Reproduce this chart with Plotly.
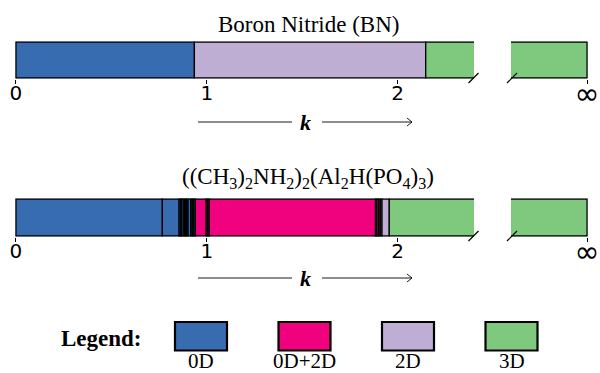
import plotly.graph_objects as go

W, H = 600, 373

# ---------------- data ----------------
PHASES = ["0D", "0D+2D", "2D", "3D"]
PHASE_COLORS = {"0D": "#386cb0", "0D+2D": "#f0027f", "2D": "#beaed4", "3D": "#7fc97f"}

INF_K = 3.0  # value that stands for k = infinity on the right-hand (broken) axis

# Boron Nitride (BN): segment boundaries in k and the phase of each segment
bn_bounds = [0.0, 0.935, 2.147, INF_K]
bn_phases = ["0D", "2D", "3D"]

# ((CH3)2NH2)2(Al2H(PO4)3)
dma_bounds = [0.0, 0.767, 0.855, 0.863, 0.870, 0.880, 0.887, 0.894, 0.902, 0.916,
              0.924, 0.932, 0.940, 0.997, 1.005, 1.013, 1.884, 1.892, 1.900, 1.909,
              1.918, 1.956, INF_K]
dma_phases = ["0D"] * 12 + ["0D+2D"] * 5 + ["2D", "0D+2D", "2D", "2D", "3D"]

titles = ["Boron Nitride (BN)",
          "((CH<sub>3</sub>)<sub>2</sub>NH<sub>2</sub>)<sub>2</sub>(Al<sub>2</sub>H(PO<sub>4</sub>)<sub>3</sub>)"]

left_ticks = [0, 1, 2]
left_ticktext = ["0", "1", "2"]
right_ticks = [INF_K]
right_ticktext = ["∞"]

LEFT_RANGE = [-0.005, 2.4]
RIGHT_RANGE = [2.6, 3.005]

# ---------------- helpers ----------------
def px(x):
    return x / W


def py(y):
    return 1 - y / H


SERIF = "Liberation Serif"
SANS = "DejaVu Sans"

fig = go.Figure()

rows = [
    dict(bounds=bn_bounds, phases=bn_phases, bar_top=42, bar_bot=78, title_y=24, arrow_y=122),
    dict(bounds=dma_bounds, phases=dma_phases, bar_top=199, bar_bot=236, title_y=178, arrow_y=278),
]

layout_axes = {}
shapes = []
annotations = []
PAD = 0.52

for r, row in enumerate(rows):
    h = row["bar_bot"] - row["bar_top"]
    extra = h * (PAD - 0.5)
    ydom = [py(row["bar_bot"] + extra), py(row["bar_top"] - extra)]
    for side in range(2):
        idx = r * 2 + side + 1
        xs = "x" if idx == 1 else f"x{idx}"
        ys = "y" if idx == 1 else f"y{idx}"
        xkey = "xaxis" if idx == 1 else f"xaxis{idx}"
        ykey = "yaxis" if idx == 1 else f"yaxis{idx}"
        if side == 0:
            xdom = [px(15), px(474)]
            rng = LEFT_RANGE
            tv, tt, tf, so = left_ticks, left_ticktext, 20, -8
        else:
            xdom = [px(511), px(588)]
            rng = RIGHT_RANGE
            tv, tt, tf, so = right_ticks, right_ticktext, 30, -16
        layout_axes[xkey] = dict(domain=xdom, range=rng, anchor=ys, tickvals=tv, ticktext=tt,
                                 ticks="outside", ticklen=4, tickwidth=1, tickcolor="black",
                                 showgrid=False, zeroline=False, showline=False,
                                 tickfont=dict(family=SANS, size=tf, color="black"),
                                 ticklabelstandoff=so, automargin=False,
                                 fixedrange=True)
        layout_axes[ykey] = dict(domain=ydom, range=[-PAD, PAD], anchor=xs, visible=False,
                                 automargin=False, fixedrange=True)
        b = row["bounds"]
        for i, ph in enumerate(row["phases"]):
            fig.add_trace(go.Bar(
                x=[b[i + 1] - b[i]], base=[b[i]], y=[0], orientation="h", width=1,
                marker=dict(color=PHASE_COLORS[ph], line=dict(color="black", width=1.3)),
                xaxis=xs, yaxis=ys, showlegend=False, hoverinfo="skip"))

    # title
    annotations.append(dict(text=titles[r], x=px(308), y=py(row["title_y"]), xref="paper", yref="paper",
                            xanchor="center", yanchor="middle", showarrow=False,
                            font=dict(family=SERIF, size=23, color="black")))
    # k arrow
    ay = row["arrow_y"]
    shapes.append(dict(type="line", xref="paper", yref="paper", x0=px(198), x1=px(292), y0=py(ay), y1=py(ay),
                       line=dict(color="black", width=0.9)))
    shapes.append(dict(type="line", xref="paper", yref="paper", x0=px(322), x1=px(412), y0=py(ay), y1=py(ay),
                       line=dict(color="black", width=0.9)))
    shapes.append(dict(type="path", xref="paper", yref="paper",
                       path=f"M {px(407)} {py(ay - 4)} L {px(412)} {py(ay)} L {px(407)} {py(ay + 4)}",
                       line=dict(color="black", width=0.9)))
    annotations.append(dict(text="<b><i>k</i></b>", x=px(305), y=py(ay), xref="paper", yref="paper",
                            xanchor="center", yanchor="middle", showarrow=False,
                            font=dict(family=SERIF, size=22, color="black")))
    # break marks
    yb = row["bar_bot"]
    for cx in (473.5, 512):
        shapes.append(dict(type="line", xref="paper", yref="paper", x0=px(cx - 5), x1=px(cx + 5),
                           y0=py(yb + 5), y1=py(yb - 5), line=dict(color="black", width=1.2)))

# legend
annotations.append(dict(text="<b>Legend:</b>", x=px(101), y=py(338), xref="paper", yref="paper",
                        xanchor="center", yanchor="middle", showarrow=False,
                        font=dict(family=SERIF, size=23, color="black")))
for i, ph in enumerate(PHASES):
    x0 = 175 + i * 103.5
    shapes.append(dict(type="rect", xref="paper", yref="paper", x0=px(x0), x1=px(x0 + 52),
                       y0=py(350.5), y1=py(322), fillcolor=PHASE_COLORS[ph],
                       line=dict(color="black", width=2.2)))
    annotations.append(dict(text=ph, x=px(x0 + 26), y=py(361), xref="paper", yref="paper",
                            xanchor="center", yanchor="middle", showarrow=False,
                            font=dict(family=SERIF, size=21, color="black")))

fig.update_layout(width=W, height=H, margin=dict(l=0, r=0, t=0, b=0, autoexpand=False),
                  paper_bgcolor="white", plot_bgcolor="white", barmode="overlay",
                  shapes=shapes, annotations=annotations, **layout_axes)

fig.write_html("out.html", config={"displayModeBar": False})
